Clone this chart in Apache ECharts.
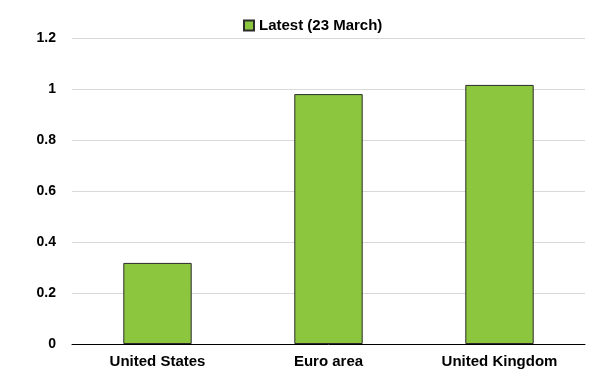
<!DOCTYPE html>
<html>
<head>
<meta charset="utf-8">
<script src="https://cdn.jsdelivr.net/npm/echarts@6/dist/echarts.min.js"></script>
<style>
html,body{margin:0;padding:0;background:#fff;}
#c{width:608px;height:373px;}
</style>
</head>
<body>
<div id="c"></div>
<script>
const categories = ["United States", "Euro area", "United Kingdom"];
const latestValues = [0.318, 0.98, 1.016];
const seriesName = "Latest (23 March)";
const yTicks = [0, 0.2, 0.4, 0.6, 0.8, 1, 1.2];

const FONT = 'Liberation Sans, Arial, sans-serif';
const chart = echarts.init(document.getElementById('c'));
chart.setOption({
  animation: false,
  textStyle: { fontFamily: FONT },
  legend: {
    top: 13,
    left: 238,
    itemWidth: 10,
    itemHeight: 10,
    itemGap: 5,
    textStyle: { fontWeight: 'bold', fontSize: 15, color: '#000', fontFamily: FONT },
    data: [{ name: seriesName, icon: 'rect' }]
  },
  grid: { left: 72, right: 23, top: 38, bottom: 29, containLabel: false },
  xAxis: {
    type: 'category',
    data: categories,
    axisLine: { lineStyle: { color: '#000', width: 1 } },
    axisTick: { show: false },
    axisLabel: { fontWeight: 'bold', fontSize: 15, color: '#000', margin: 10, fontFamily: FONT }
  },
  yAxis: {
    type: 'value',
    min: 0,
    max: 1.2,
    interval: 0.2,
    axisLine: { show: false },
    axisTick: { show: false },
    splitLine: { lineStyle: { color: '#d9d9d9', width: 1 } },
    axisLabel: {
      fontWeight: 'bold', fontSize: 14, color: '#000', margin: 16,
      fontFamily: FONT,
      formatter: function (v) {
        const t = yTicks.find(x => Math.abs(x - v) < 1e-9);
        return t === undefined ? '' : String(t);
      }
    }
  },
  series: [{
    name: seriesName,
    type: 'bar',
    data: latestValues,
    barWidth: '40%',
    itemStyle: { color: '#8cc63f', borderColor: '#2b2b2b', borderWidth: 1 }
  }]
});
</script>
</body>
</html>
